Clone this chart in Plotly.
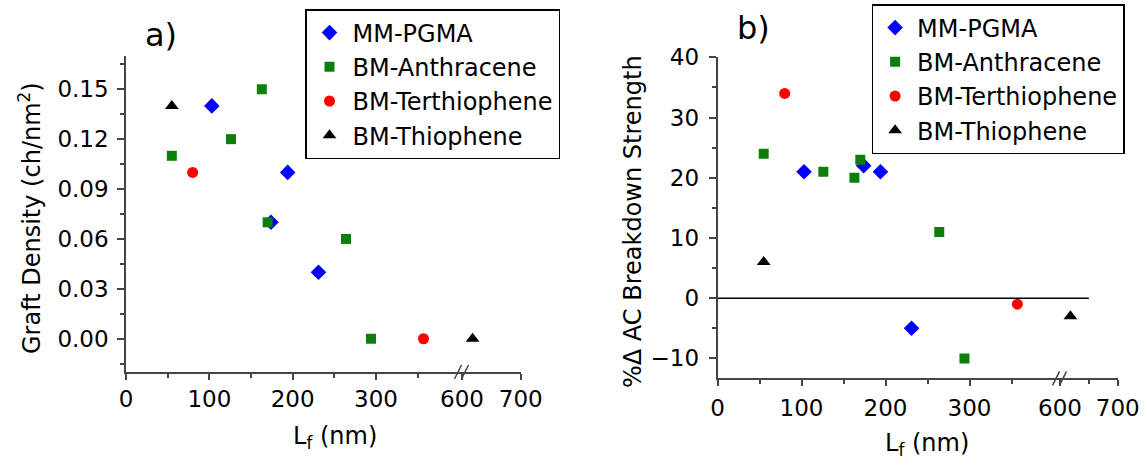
import plotly.graph_objects as go

W, H = 1147, 461
BREAK_AT = 500  # L_f values above this are drawn on the right-hand (broken) axis segment

series_names = ["MM-PGMA", "BM-Anthracene", "BM-Terthiophene", "BM-Thiophene"]

pgma_lf = [103, 174, 194, 231]
pgma_graft = [0.14, 0.07, 0.10, 0.04]
pgma_acbd = [21, 22, 21, -5]

anth_lf = [55, 126, 163, 170, 264, 294]
anth_graft = [0.11, 0.12, 0.15, 0.07, 0.06, 0.00]
anth_acbd = [24, 21, 20, 23, 11, -10]

terth_lf = [80, 357]
terth_graft = [0.10, 0.00]
terth_acbd = [34, -1]

thio_lf = [55, 618]
thio_graft = [0.14, 0.00]
thio_acbd = [6, -3]

x_ticks_low = [0, 100, 200, 300]
x_ticks_high = [600, 700]

styles = [
    dict(symbol="diamond", color="#0000ff", size=12),
    dict(symbol="square", color="#0a800a", size=10),
    dict(symbol="circle", color="#ff0000", size=11),
    dict(symbol="triangle-up", color="#000000", size=12),
]

data_a = [(pgma_lf, pgma_graft), (anth_lf, anth_graft), (terth_lf, terth_graft), (thio_lf, thio_graft)]
data_b = [(pgma_lf, pgma_acbd), (anth_lf, anth_acbd), (terth_lf, terth_acbd), (thio_lf, thio_acbd)]

FONT = "DejaVu Sans"

fig = go.Figure()


def add_panel(data, xlow, xhigh, yax, legend, group_prefix):
    for name, st, (xs, ys) in zip(series_names, styles, data):
        lo = [(x, y) for x, y in zip(xs, ys) if x < BREAK_AT]
        hi = [(x, y) for x, y in zip(xs, ys) if x >= BREAK_AT]
        marker = dict(symbol=st["symbol"], color=st["color"], size=st["size"], line=dict(width=0))
        fig.add_trace(go.Scatter(
            x=[p[0] for p in lo], y=[p[1] for p in lo], mode="markers", name=name,
            marker=marker, xaxis=xlow, yaxis=yax, legend=legend,
            legendgroup=group_prefix + name, showlegend=True))
        if hi:
            fig.add_trace(go.Scatter(
                x=[p[0] for p in hi], y=[p[1] for p in hi], mode="markers", name=name,
                marker=marker, xaxis=xhigh, yaxis=yax, legend=legend,
                legendgroup=group_prefix + name, showlegend=False))


add_panel(data_a, "x", "x2", "y", "legend", "a_")
add_panel(data_b, "x3", "x4", "y2", "legend2", "b_")

AX_COLOR = "#454545"
tickfont = dict(family=FONT, size=23, color="black")
common_x = dict(showline=True, linecolor=AX_COLOR, linewidth=1.5, ticks="outside", ticklen=6,
                tickwidth=1.5, tickcolor=AX_COLOR, showgrid=False, zeroline=False,
                tickfont=tickfont, tickmode="array", fixedrange=True, automargin=False)
common_y = dict(showline=True, linecolor=AX_COLOR, linewidth=1.5, ticks="outside", ticklen=7,
                tickwidth=1.5, tickcolor=AX_COLOR, showgrid=False, zeroline=False,
                tickfont=tickfont, fixedrange=True, automargin=False)


def px(v):
    return v / W


def py(v):
    return 1 - v / H


a_break = 462
b_break = 1060
a_low_max = (a_break - 126) / 0.8333
b_low_max = (b_break - 717.5) / 0.84

fig.update_layout(
    width=W, height=H,
    margin=dict(l=0, r=0, t=0, b=0, pad=0, autoexpand=False),
    paper_bgcolor="white", plot_bgcolor="white",
    font=dict(family=FONT, color="black"),
    xaxis=dict(common_x, domain=[px(126), px(a_break)], range=[0, a_low_max], anchor="y",
               tickvals=x_ticks_low, minor=dict(tickvals=[50, 150, 250, 350], ticks="outside",
                                               ticklen=4, tickcolor=AX_COLOR, tickwidth=1.5),
               ticklabelstandoff=0),
    xaxis2=dict(common_x, domain=[px(a_break), px(520.7)], range=[600, 700], anchor="y",
                tickvals=x_ticks_high, ticklabelstandoff=0),
    yaxis=dict(common_y, domain=[py(372), py(56)], range=[-0.02, 0.17], anchor="x",
               tickvals=[0, 0.03, 0.06, 0.09, 0.12, 0.15], tickformat=".2f",
               minor=dict(dtick=0.015, tick0=0, ticks="outside", ticklen=4, tickcolor=AX_COLOR,
                          tickwidth=1.5),
               ticklabelstandoff=4),
    xaxis3=dict(common_x, domain=[px(717.5), px(b_break)], range=[0, b_low_max], anchor="y2",
                tickvals=x_ticks_low, minor=dict(tickvals=[50, 150, 250, 350], ticks="outside",
                                                ticklen=4, tickcolor=AX_COLOR, tickwidth=1.5),
                ticklabelstandoff=2),
    xaxis4=dict(common_x, domain=[px(b_break), px(1117.7)], range=[600, 700], anchor="y2",
                tickvals=x_ticks_high, minor=dict(tickvals=[650], ticks="outside", ticklen=4,
                                                  tickcolor=AX_COLOR, tickwidth=1.5),
                ticklabelstandoff=2),
    yaxis2=dict(common_y, domain=[py(378.3), py(57.3)], range=[-13.3, 40], anchor="x3",
                tickvals=[-10, 0, 10, 20, 30, 40],
                minor=dict(dtick=5, tick0=0, ticks="outside", ticklen=4, tickcolor=AX_COLOR,
                           tickwidth=1.5),
                ticklabelstandoff=5),
    legend=dict(x=px(305), y=py(9), xanchor="left", yanchor="top",
                bordercolor="black", borderwidth=1.5, bgcolor="white",
                font=dict(family=FONT, size=24, color="black"), itemwidth=36,
                tracegroupgap=0),
    legend2=dict(x=px(871.6), y=py(4), xanchor="left", yanchor="top",
                 bordercolor="black", borderwidth=1.5, bgcolor="white",
                 font=dict(family=FONT, size=24, color="black"), itemwidth=34,
                 tracegroupgap=0),
    showlegend=True,
)

# zero reference line in panel b (spans both axis segments)
fig.add_shape(type="line", xref="x3", yref="y2", x0=0, x1=b_low_max, y0=0, y1=0,
              line=dict(color="black", width=1.5))
fig.add_shape(type="line", xref="x4", yref="y2", x0=600, x1=650, y0=0, y1=0,
              line=dict(color="black", width=1.5))

# axis-break marks "//"
for bx, by in [(a_break, 372), (b_break, 378.3)]:
    for dx in (-4, 3):
        fig.add_shape(type="line", xref="paper", yref="paper",
                      x0=px(bx + dx - 3.5), y0=py(by + 7), x1=px(bx + dx + 3.5), y1=py(by - 7),
                      line=dict(color=AX_COLOR, width=1.5))

ann_font = dict(family=FONT, size=24, color="black")
annotations = [
    dict(text="a)", x=px(161), y=py(35), font=dict(family=FONT, size=32, color="black")),
    dict(text="b)", x=px(753), y=py(28), font=dict(family=FONT, size=32, color="black")),
    dict(text="Graft Density (ch/nm<sup>2</sup>)", x=px(30), y=py(218), textangle=-90, font=ann_font),
    dict(text="%\u0394 AC Breakdown Strength", x=px(633), y=py(222), textangle=-90, font=ann_font),
    dict(text="L<sub>f</sub> (nm)", x=px(335), y=py(437), font=ann_font),
    dict(text="L<sub>f</sub> (nm)", x=px(927), y=py(444), font=ann_font),
]
for a in annotations:
    fig.add_annotation(xref="paper", yref="paper", showarrow=False,
                       xanchor="center", yanchor="middle", **a)

fig.write_html("out.html", config={"displayModeBar": False},
               post_script="document.body.style.margin='0';")
